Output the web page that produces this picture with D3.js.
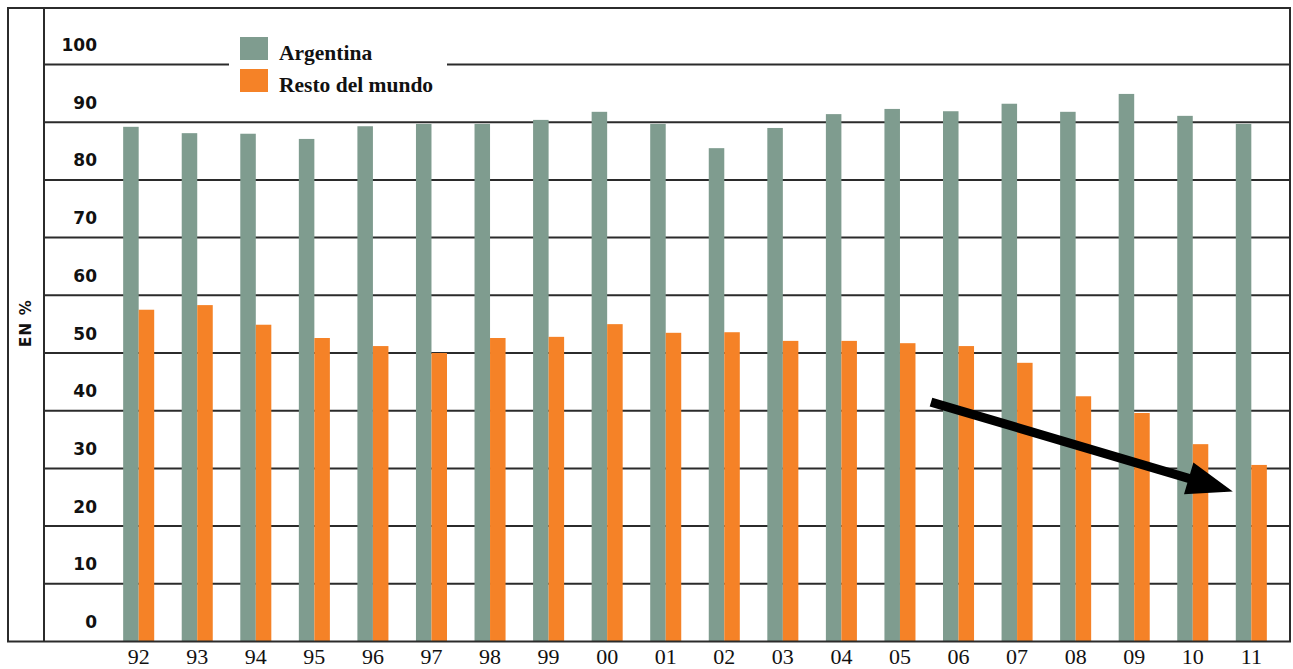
<!DOCTYPE html>
<html>
<head>
<meta charset="utf-8">
<script src="https://cdn.jsdelivr.net/npm/d3@7"></script>
<style>
  html, body { margin: 0; padding: 0; background: #fff; }
  svg { display: block; }
</style>
</head>
<body>
<svg id="chart" width="1293" height="669"></svg>
<script>
// Years (two-digit labels) and the two series, in %
const years = ["92","93","94","95","96","97","98","99","00","01","02","03","04","05","06","07","08","09","10","11"];
const argentina = [89.2, 88.1, 88.0, 87.1, 89.3, 89.7, 89.7, 90.4, 91.8, 89.7, 85.5, 89.0, 91.4, 92.3, 91.9, 93.2, 91.8, 94.9, 91.1, 89.7];
const restoDelMundo = [57.5, 58.3, 54.9, 52.6, 51.2, 50.0, 52.6, 52.8, 55.0, 53.5, 53.6, 52.1, 52.1, 51.7, 51.2, 48.3, 42.5, 39.6, 34.2, 30.6];
const yTicks = [0, 10, 20, 30, 40, 50, 60, 70, 80, 90, 100];
const seriesNames = ["Argentina", "Resto del mundo"];
const seriesColors = ["#7f9c8f", "#f58227"];

const svg = d3.select("#chart");

// Frame
const frame = { left: 8, top: 8, right: 1290, bottom: 641.5, axisX: 44 };

const y = d3.scaleLinear().domain([0, 100]).range([641.5, 64.5]);

const x = d3.scaleBand()
  .domain(years)
  .range([109.4, 1280.6])
  .paddingInner(0.47)
  .paddingOuter(0.235);

const xs = d3.scaleBand().domain(seriesNames).range([0, x.bandwidth()]);

// Horizontal grid lines
svg.append("g")
  .selectAll("line")
  .data(yTicks.filter(v => v > 0))
  .join("line")
  .attr("x1", frame.axisX)
  .attr("x2", frame.right)
  .attr("y1", d => y(d))
  .attr("y2", d => y(d))
  .attr("stroke", "#2b2b2b")
  .attr("stroke-width", 2);

// Y tick labels, sitting above their grid line
svg.append("g")
  .selectAll("text")
  .data(yTicks)
  .join("text")
  .attr("x", 97)
  .attr("y", d => y(d) - 19.5)
  .attr("text-anchor", "end")
  .attr("dominant-baseline", "central")
  .attr("font-family", "DejaVu Sans, sans-serif")
  .attr("font-weight", "bold")
  .attr("font-size", 17)
  .attr("fill", "#111")
  .text(d => d);

// Axis title
svg.append("text")
  .attr("transform", "translate(31,323) rotate(-90)")
  .attr("text-anchor", "middle")
  .attr("font-family", "DejaVu Sans, sans-serif")
  .attr("font-weight", "bold")
  .attr("font-size", 15)
  .attr("letter-spacing", 1.2)
  .attr("fill", "#111")
  .text("EN %");

// Bars
const rows = years.map((yr, i) => ({ year: yr, values: [argentina[i], restoDelMundo[i]] }));
const groups = svg.append("g")
  .selectAll("g")
  .data(rows)
  .join("g")
  .attr("transform", d => `translate(${x(d.year)},0)`);

groups.selectAll("rect")
  .data(d => d.values.map((v, k) => ({ key: seriesNames[k], value: v, color: seriesColors[k] })))
  .join("rect")
  .attr("x", d => xs(d.key))
  .attr("width", xs.bandwidth())
  .attr("y", d => y(d.value))
  .attr("height", d => y(0) - y(d.value))
  .attr("fill", d => d.color);

// X labels
svg.append("g")
  .selectAll("text")
  .data(years)
  .join("text")
  .attr("x", d => x(d) + x.bandwidth() / 2)
  .attr("y", 664)
  .attr("text-anchor", "middle")
  .attr("font-family", "Liberation Serif, serif")
  .attr("font-size", 22)
  .attr("fill", "#111")
  .text(d => d);

// Outer frame and axis separator
svg.append("rect")
  .attr("x", frame.left)
  .attr("y", frame.top)
  .attr("width", frame.right - frame.left)
  .attr("height", frame.bottom - frame.top)
  .attr("fill", "none")
  .attr("stroke", "#2b2b2b")
  .attr("stroke-width", 2);
svg.append("line")
  .attr("x1", frame.axisX).attr("x2", frame.axisX)
  .attr("y1", frame.top).attr("y2", frame.bottom)
  .attr("stroke", "#2b2b2b")
  .attr("stroke-width", 2);

// Legend on a white panel
const legend = svg.append("g");
legend.append("rect")
  .attr("x", 229).attr("y", 30)
  .attr("width", 218).attr("height", 70)
  .attr("fill", "#fff");
seriesNames.forEach((name, k) => {
  const top = 37 + k * 32;
  legend.append("rect")
    .attr("x", 240).attr("y", top)
    .attr("width", 28).attr("height", 23)
    .attr("fill", seriesColors[k]);
  legend.append("text")
    .attr("x", 279).attr("y", top + 23)
    .attr("font-family", "Liberation Serif, serif")
    .attr("font-weight", "bold")
    .attr("font-size", 21.5)
    .attr("fill", "#111")
    .text(name);
});

// Trend arrow over the last years of "Resto del mundo"
const start = [x("05") + x.bandwidth() * 1.5, y(41.5)];
const tip = [x("11") - 3, y(26)];
const dx = tip[0] - start[0], dy = tip[1] - start[1];
const len = Math.hypot(dx, dy);
const ux = dx / len, uy = dy / len, nx = -uy, ny = ux;
const shaft = 4.6, headLen = 46, headHalf = 16.5;
const base = [tip[0] - ux * headLen, tip[1] - uy * headLen];
const pts = [
  [start[0] + nx * shaft, start[1] + ny * shaft],
  [base[0] + nx * shaft, base[1] + ny * shaft],
  [base[0] + nx * headHalf, base[1] + ny * headHalf],
  tip,
  [base[0] - nx * headHalf, base[1] - ny * headHalf],
  [base[0] - nx * shaft, base[1] - ny * shaft],
  [start[0] - nx * shaft, start[1] - ny * shaft]
];
svg.append("path")
  .attr("d", d3.line()(pts) + "Z")
  .attr("fill", "#000");
</script>
</body>
</html>
